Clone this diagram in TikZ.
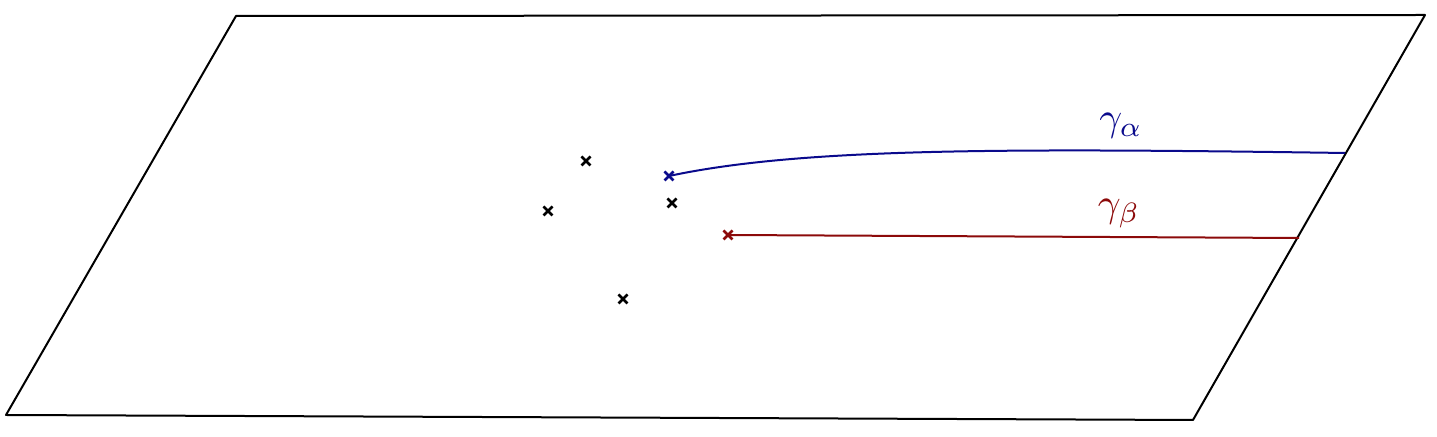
\documentclass[tikz,border=0pt]{standalone}
\usetikzlibrary{shapes.misc}
\definecolor{cblue}{RGB}{10,10,140}
\definecolor{cred}{RGB}{140,10,10}
\begin{document}
\begin{tikzpicture}[x=0.25pt,y=-0.25pt,
  xmark/.style={cross out,draw,minimum size=1.6pt,inner sep=0pt,line width=0.65pt},
  plane/.style={line width=0.5pt,line join=round},
  path/.style={line width=0.5pt}]
\useasboundingbox (0,0) rectangle (1437,437);
\coordinate (tl) at (236,16);
\coordinate (tr) at (1425,15);
\coordinate (br) at (1193,420);
\coordinate (bl) at (6,415);
\draw[plane] (tl) -- (tr) -- (br) -- (bl) -- cycle;
\node[xmark] (p1) at (586,161) {};
\node[xmark] (p2) at (548,211) {};
\node[xmark] (p3) at (672,203) {};
\node[xmark] (p4) at (623,299) {};
\node[xmark,cblue] (pa) at (669,176) {};
\node[xmark,cred] (pb) at (728,235) {};
\coordinate (ea) at (1345,153);
\coordinate (eb) at (1299,238);
\draw[path,cblue] (pa.center) .. controls (800,148) and (1000,148) .. (ea);
\draw[path,cred] (pb.center) -- (eb);
\node[cblue] (la) at (1121,126) {$\gamma_\alpha$};
\node[cred] (lb) at (1119,214) {$\gamma_\beta$};
\end{tikzpicture}
\end{document}
